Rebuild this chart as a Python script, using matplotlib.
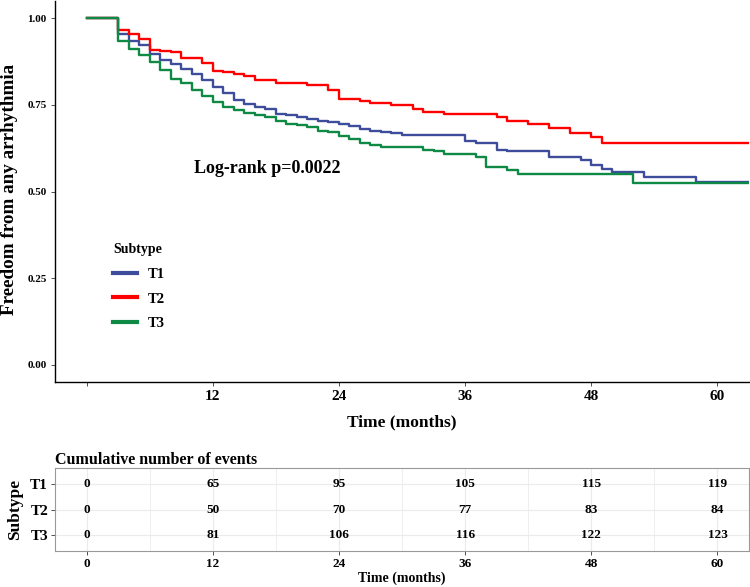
import matplotlib
matplotlib.use("Agg")
import matplotlib.pyplot as plt
import numpy as np

plt.rcParams['font.family'] = ['Liberation Serif', 'DejaVu Serif']
plt.rcParams['font.weight'] = 'bold'

# survival curves (step times in months, survival after the step)
t1_time = [0, 3, 4, 5, 6, 7, 8, 9, 10, 11, 12, 13, 14, 15, 16, 17, 18, 19, 20, 21,
           22, 23, 24, 25, 26, 27, 28, 29, 30, 36, 37, 39, 40, 44, 47, 48, 49, 50, 53, 58]
t1_surv = [1.0, 0.954, 0.936, 0.922, 0.898, 0.879, 0.867, 0.855, 0.840, 0.821, 0.803,
           0.784, 0.763, 0.752, 0.744, 0.737, 0.724, 0.720, 0.715, 0.710, 0.705, 0.700,
           0.694, 0.688, 0.681, 0.676, 0.673, 0.669, 0.664, 0.645, 0.640, 0.620, 0.616,
           0.599, 0.590, 0.577, 0.566, 0.556, 0.543, 0.527]

t2_time = [0, 3, 4, 5, 6, 7, 8, 9, 11, 12, 13, 14, 15, 16, 18, 21, 23, 24, 26, 27,
           29, 31, 32, 34, 39, 40, 42, 44, 46, 48, 49]
t2_surv = [1.0, 0.965, 0.954, 0.939, 0.910, 0.907, 0.903, 0.885, 0.871, 0.847, 0.845,
           0.840, 0.833, 0.823, 0.813, 0.809, 0.794, 0.768, 0.761, 0.756, 0.750, 0.739,
           0.731, 0.723, 0.715, 0.705, 0.696, 0.683, 0.670, 0.657, 0.641]

t3_time = [0, 3, 4, 5, 6, 7, 8, 9, 10, 11, 12, 13, 14, 15, 16, 17, 18, 19, 20, 21,
           22, 23, 24, 25, 26, 27, 28, 32, 33, 34, 37, 38, 40, 41, 52]
t3_surv = [1.0, 0.936, 0.912, 0.895, 0.874, 0.850, 0.826, 0.813, 0.792, 0.775, 0.758,
           0.744, 0.734, 0.727, 0.720, 0.715, 0.705, 0.694, 0.691, 0.686, 0.676, 0.671,
           0.659, 0.652, 0.640, 0.633, 0.628, 0.621, 0.616, 0.609, 0.599, 0.572, 0.561,
           0.551, 0.524]

groups = ['T1', 'T2', 'T3']
colors = ['#3D4C9B', '#FF0000', '#0E8A45']
end_time = 63

# cumulative number of events table
table_times = [0, 12, 24, 36, 48, 60]
events_t1 = [0, 65, 95, 105, 115, 119]
events_t2 = [0, 50, 70, 77, 83, 84]
events_t3 = [0, 81, 106, 116, 122, 123]

fig = plt.figure(figsize=(7.5, 5.87), dpi=100)
ax = fig.add_axes([0.0733, 0.3492, 0.9254, 0.649])
tab = fig.add_axes([0.0733, 0.0613, 0.9254, 0.1414])

curves = [(t1_time, t1_surv), (t2_time, t2_surv), (t3_time, t3_surv)]
for (tt, ss), c, g in zip(curves, colors, groups):
    ax.step(tt + [end_time], ss + [ss[-1]], where='post', color=c, lw=1.7, label=g)

ax.set_xlim(-3, 63)
ax.set_ylim(-0.05, 1.05)
ax.set_xticks([0, 12, 24, 36, 48, 60])
ax.set_xticklabels(['', '12', '24', '36', '48', '60'], fontsize=11, fontweight='bold')
ax.set_yticks([0, 0.25, 0.5, 0.75, 1.0])
ax.set_yticklabels(['0.00', '0.25', '0.50', '0.75', '1.00'], fontsize=8, fontweight='bold')
ax.tick_params(length=3, width=0.6, color='#333333', pad=3)
for s in ['top', 'right']:
    ax.spines[s].set_visible(False)
for s in ['left', 'bottom']:
    ax.spines[s].set_linewidth(1.0)
ax.set_xlabel('Time (months)', fontsize=12.5, fontweight='bold', labelpad=8)
ax.set_ylabel('Freedom from any arrhythmia', fontsize=13.8, fontweight='bold')
ax.yaxis.set_label_coords(-0.053, 0.505)

ax.text(17.2, 0.567, 'Log-rank p=0.0022', fontsize=13, fontweight='bold',
        ha='center', va='center')

leg = ax.legend(title='Subtype', loc='upper left', bbox_to_anchor=(0.065, 0.40),
                frameon=False, fontsize=10.5, title_fontsize=10,
                handlelength=1.6, handletextpad=0.75, labelspacing=0.8)
leg._legend_box.align = 'left'
for line in leg.get_lines():
    line.set_linewidth(3)
for txt in leg.get_texts():
    txt.set_fontweight('bold')
leg.get_title().set_fontweight('bold')

# risk table
rows = [events_t1, events_t2, events_t3]
for i, vals in enumerate(rows):
    for t, v in zip(table_times, vals):
        tab.text(t, i + 1, str(v), ha='center', va='center', fontsize=9.5, fontweight='bold')

tab.set_xlim(-3, 63)
tab.set_ylim(3.6, 0.4)
tab.set_xticks(table_times)
tab.set_xticklabels([str(t) for t in table_times], fontsize=9.5, fontweight='bold')
tab.set_xticks([6, 18, 30, 42, 54], minor=True)
tab.set_yticks([1, 2, 3])
tab.set_yticklabels(groups, fontsize=11, fontweight='bold')
tab.tick_params(length=3, width=0.6, color='#333333', pad=2)
tab.tick_params(which='minor', length=0)
tab.grid(True, which='major', color='#EBEBEB', lw=0.8)
tab.grid(True, which='minor', axis='x', color='#EBEBEB', lw=0.6)
tab.set_axisbelow(True)
for s in tab.spines.values():
    s.set_color('#999999')
    s.set_linewidth(0.8)
tab.set_title('Cumulative number of events', loc='left', fontsize=11.5,
              fontweight='bold', pad=3)
tab.set_xlabel('Time (months)', fontsize=10, fontweight='bold', labelpad=1)
tab.set_ylabel('Subtype', fontsize=12.5, fontweight='bold', labelpad=5)

fig.savefig('out.png', dpi=100)
